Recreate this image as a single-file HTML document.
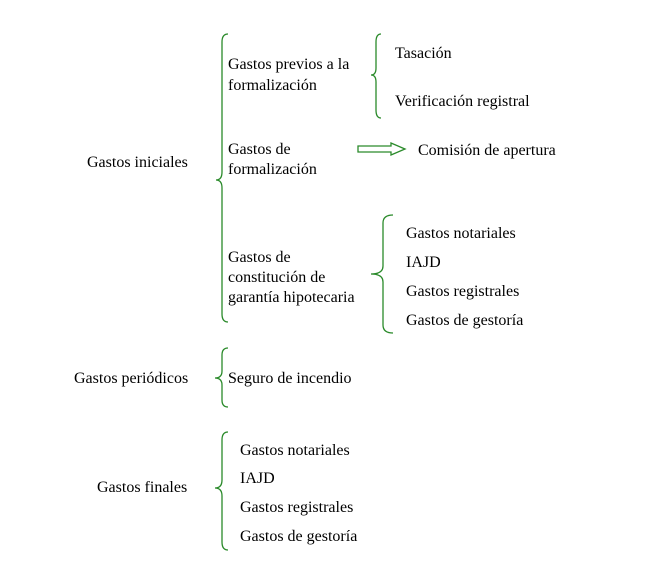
<!DOCTYPE html>
<html><head><meta charset="utf-8"><style>
body{margin:0;background:#fff}
text{font-family:"Liberation Serif","Times New Roman","Noto Serif CJK SC","DejaVu Serif",serif;font-size:16px;fill:#000}
</style></head><body>
<svg width="653" height="570" viewBox="0 0 653 570" xmlns="http://www.w3.org/2000/svg">
<g fill="none" stroke="#2a8a2a" stroke-width="1.3">
<path d="M228,34 Q222,34 222,42 L222,172 Q222,180 216,180 Q222,180 222,188 L222,314 Q222,322 228,322"/>
<path d="M381,34 Q376,34 376,42 L376,68 Q376,75 371,75 Q376,75 376,82 L376,110 Q376,118 381,118"/>
<path d="M393,215 Q383,215 383,223 L383,266 Q383,274 371,274 Q383,274 383,282 L383,325 Q383,333 393,333"/>
<path d="M228,348 Q222,348 222,355 L222,371 Q222,378 215,378 Q222,378 222,385 L222,400 Q222,407 228,407"/>
<path d="M228,432 Q222,432 222,440 L222,480 Q222,488 215,488 Q222,488 222,496 L222,542 Q222,550 228,550"/>
<path d="M358,146 L391,146 L391,143 L405,149 L391,155 L391,152 L358,152 Z"/>
</g>
<g>
<text x="87" y="167">Gastos iniciales</text>
<text x="228" y="69">Gastos previos a la</text>
<text x="228" y="90">formalización</text>
<text x="395" y="58">Tasación</text>
<text x="395" y="106">Verificación registral</text>
<text x="228" y="154">Gastos de</text>
<text x="228" y="174">formalización</text>
<text x="418" y="155">Comisión de apertura</text>
<text x="228" y="262">Gastos de</text>
<text x="228" y="282">constitución de</text>
<text x="228" y="302">garantía hipotecaria</text>
<text x="406" y="238">Gastos notariales</text>
<text x="406" y="267">IAJD</text>
<text x="406" y="296">Gastos registrales</text>
<text x="406" y="325">Gastos de gestoría</text>
<text x="74" y="383">Gastos periódicos</text>
<text x="228" y="383">Seguro de incendio</text>
<text x="97" y="492">Gastos finales</text>
<text x="240" y="455">Gastos notariales</text>
<text x="240" y="483">IAJD</text>
<text x="240" y="512">Gastos registrales</text>
<text x="240" y="541">Gastos de gestoría</text>
</g>
</svg>
</body></html>
